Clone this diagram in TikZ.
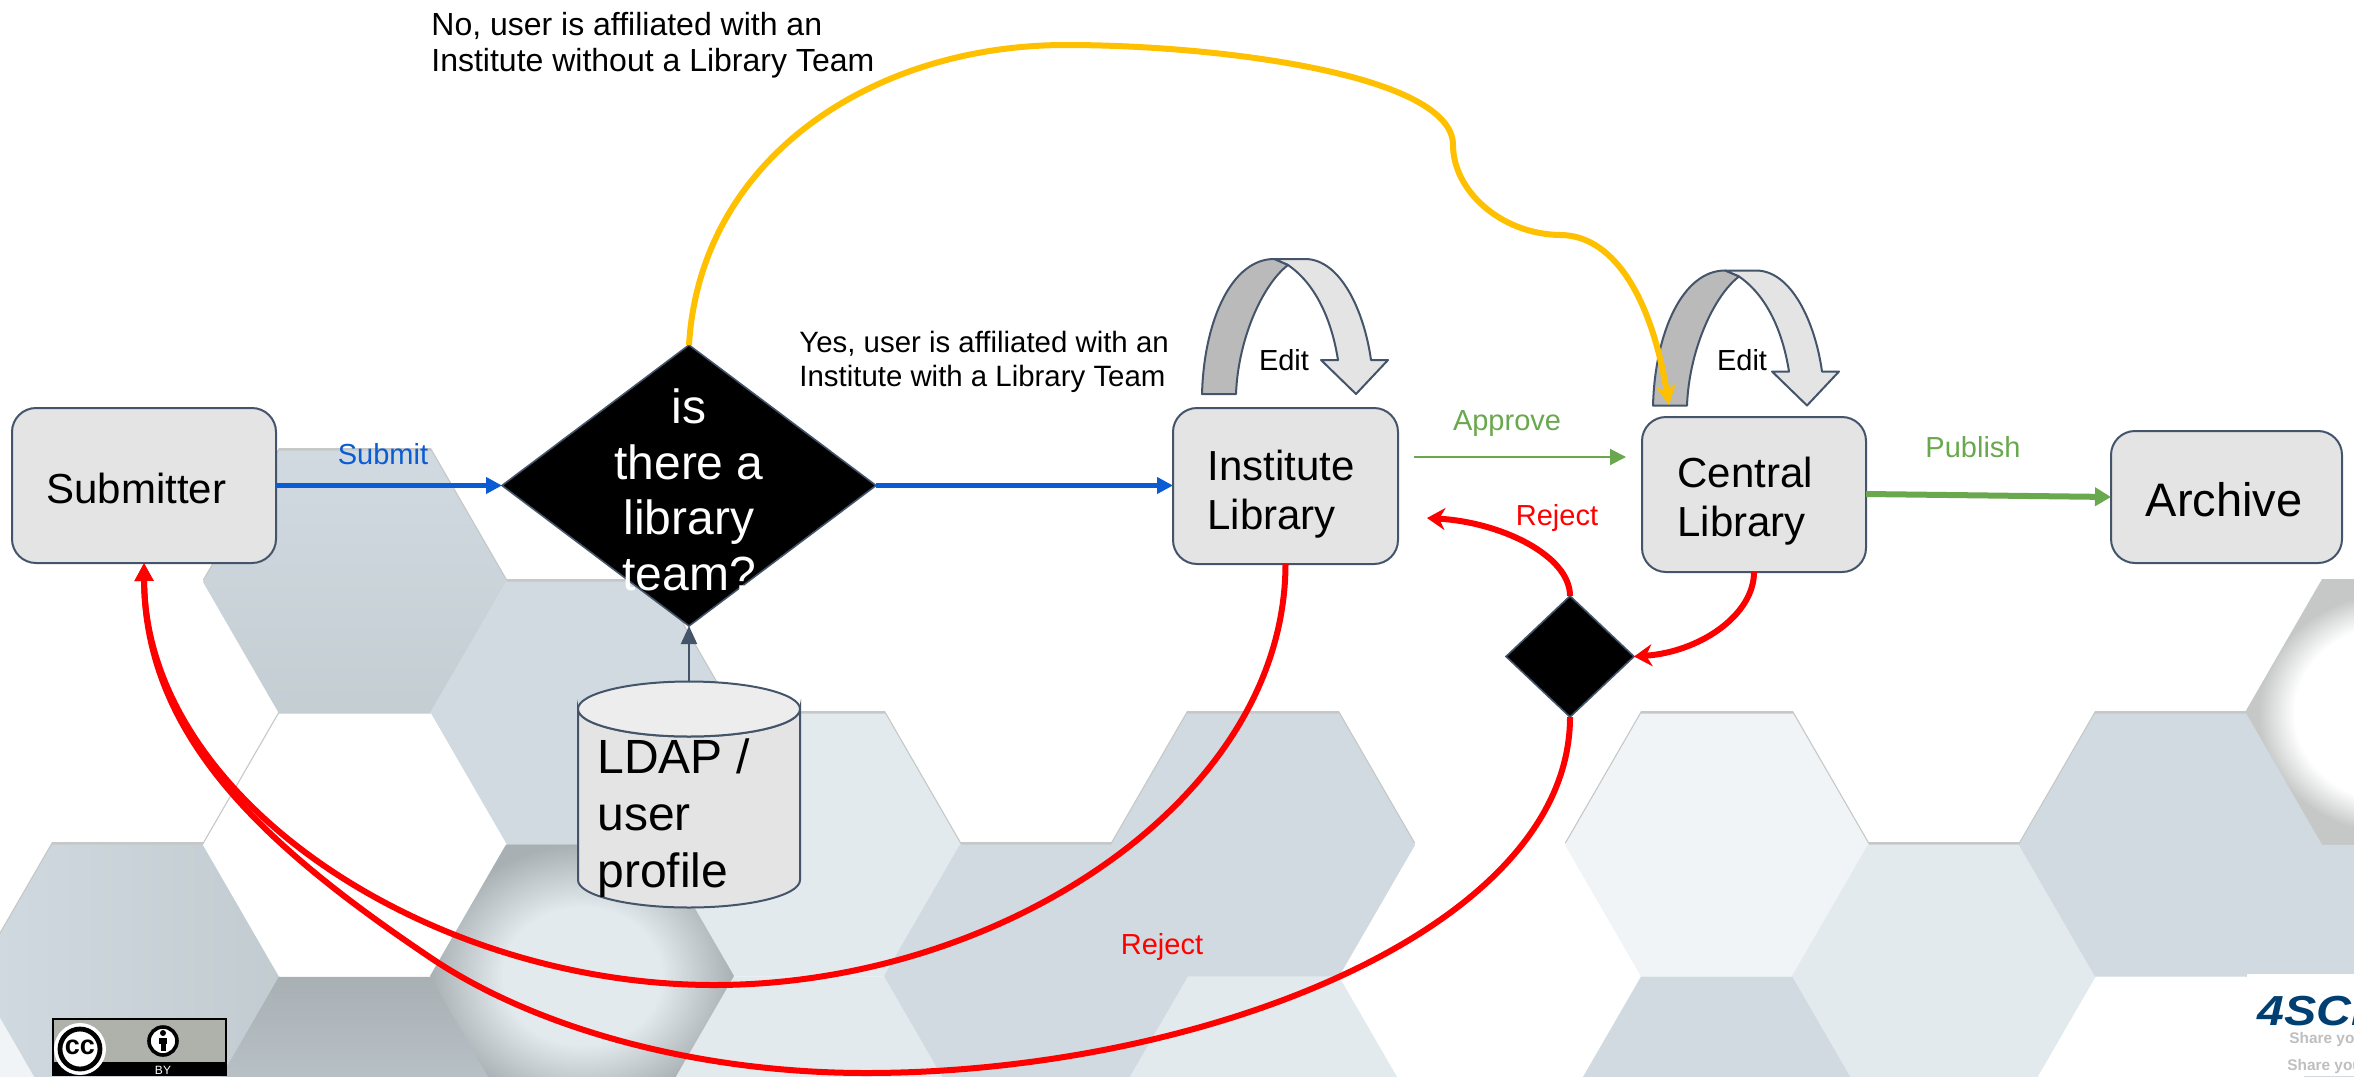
\documentclass[tikz,border=0pt]{standalone}
\usepackage{fontspec}
\setmainfont{Liberation Sans}
\usetikzlibrary{arrows.meta,shapes.geometric,calc}
\definecolor{hgray}{HTML}{D0DAE0}
\definecolor{hlight}{HTML}{E3EAEE}
\definecolor{hpale}{HTML}{F0F4F6}
\definecolor{hdark}{HTML}{A8B0B4}
\definecolor{hshadow}{HTML}{C6C8C8}
\definecolor{edgeblue}{HTML}{44546A}
\definecolor{boxfill}{HTML}{E4E4E4}
\definecolor{subblue}{HTML}{0B5BD3}
\definecolor{okgreen}{HTML}{6AA84F}
\definecolor{navy}{HTML}{003F72}
\definecolor{ccgray}{HTML}{AEB2AB}
\definecolor{amber}{HTML}{FFC000}
\pgfdeclareradialshading{softlight}{\pgfpointorigin}{color(0bp)=(hlight); color(13bp)=(hlight); color(25bp)=(hdark); color(50bp)=(hdark)}
\pgfdeclareradialshading{softwhite}{\pgfpointorigin}{color(0bp)=(white); color(17bp)=(white); color(23bp)=(hshadow); color(50bp)=(hshadow)}
\newcommand\hexpath[2]{({#1-152},{#2}) -- ({#1-76},{#2-131.5}) -- ({#1+76},{#2-131.5}) -- ({#1+152},{#2}) -- ({#1+76},{#2+131.5}) -- ({#1-76},{#2+131.5}) -- cycle}
\newcommand\hexsh[2]{\fill[hshadow] \hexpath{#1}{#2-2.5};}
\newcommand\hexfill[3]{\fill[#3] \hexpath{#1}{#2};}
\newcommand\hexshade[3]{\shade[#3] \hexpath{#1}{#2};}
\tikzset{
  stepbox/.style={draw=edgeblue,fill=boxfill,line width=1pt,rounded corners=12pt,inner sep=0pt,outer sep=0pt},
  boxtext/.style={font=\fontsize{21}{24.5}\selectfont,align=left,inner sep=0pt,anchor=west},
  small/.style={font=\fontsize{14.5}{17}\selectfont,inner sep=0pt},
  smallml/.style={small,align=left,anchor=west},
  decide/.style={diamond,draw=edgeblue,fill=black,line width=.8pt,inner sep=0pt,outer sep=0pt,aspect=1},
  redline/.style={draw=red,line width=3pt,-{Stealth[length=9pt,width=11pt]}},
  bluearrow/.style={draw=subblue,line width=2.3pt,-{Triangle[length=8pt,width=8pt]}},
  editarrow/.pic={
    \draw[edgeblue,line width=1pt,fill=boxfill,line join=round]
      (1274,259) -- (1305,259) .. controls (1340,259) and (1364,310) .. (1371,360) -- (1388,360) -- (1356,394) -- (1321,360) -- (1338,360) .. controls (1330,310) and (1310,280) .. (1288,265) -- cycle;
    \draw[edgeblue,line width=1pt,fill=black!27,line join=round]
      (1202,394) .. controls (1204,320) and (1232,259) .. (1274,259) -- (1288,265) .. controls (1262,285) and (1238,340) .. (1236,394) -- cycle;
  }
}
\begin{document}
\begin{tikzpicture}[x=.5pt,y=-.5pt]
\useasboundingbox (0,0) rectangle (2354,1076);
\begin{scope}
\clip (0,0) rectangle (2354,1076);
% background hexagons
\hexsh{355}{582}\hexsh{582}{713}\hexsh{809}{845}\hexsh{1263}{845}\hexsh{1717}{845}\hexsh{2171}{845}
\hexsh{128}{976}\hexsh{582}{976}\hexsh{1036}{976}\hexsh{1944}{976}\hexsh{2398}{976}\hexsh{355}{845}\hexsh{2398}{713}
\hexfill{-99}{1108}{hpale}
\hexshade{128}{976}{left color=hgray,middle color=hgray,right color=hgray!65!hdark}
\hexshade{355}{582}{top color=hgray,middle color=hgray,bottom color=hgray!70!hdark}
\hexfill{582}{713}{hgray}
\hexfill{809}{845}{hlight}
\hexfill{809}{1108}{hlight}
\hexfill{1263}{1108}{hlight}
\hexfill{1036}{976}{hgray}
\hexfill{1263}{845}{hgray}
\hexfill{1717}{845}{hpale}
\hexfill{1717}{1108}{hgray}
\hexfill{1944}{976}{hlight}
\hexfill{2171}{845}{hgray}
\hexfill{2398}{976}{hgray}
\hexshade{2398}{713}{shading=softwhite}
\hexshade{355}{1108}{top color=hdark,middle color=hgray,bottom color=hgray}
\hexfill{355}{845}{white}
\hexshade{582}{976}{shading=softlight}
% logo patch
\fill[white] (2247,974) rectangle (2354,1076);
\node (logo) [anchor=base west,inner sep=0pt,text=navy,font=\fontsize{21}{24}\selectfont\bfseries\itshape] at (2257,1025) {\scalebox{1.15}[1]{4SCi}};
\node (share1) [anchor=base west,inner sep=0pt,text=black!25,font=\fontsize{7.7}{9}\selectfont\bfseries] at (2289,1043) {Share yo};
\node (share2) [anchor=base west,inner sep=0pt,text=black!25,font=\fontsize{7.7}{9}\selectfont\bfseries] at (2287,1070) {Share you};
% CC badge
\fill[black] (52,1018) rectangle (227,1076);
\fill[ccgray] (54,1020) rectangle (225,1062);
\fill[white] (80,1049) circle (26);
\draw[black,line width=2.4pt,fill=white] (80,1049) circle (20);
\node (cctext) [inner sep=0pt,font=\fontsize{13.5}{14}\selectfont\bfseries] at (80,1047.5) {cc};
\draw[black,line width=1.8pt,fill=white] (163,1041) circle (14);
\fill[black] (163,1033) circle (3);
\fill[black] (159,1037.5) rectangle (167,1044);
\fill[black] (160.5,1044) rectangle (165.5,1051);
\node (bytext) [inner sep=0pt,text=white,font=\fontsize{6}{7}\selectfont] at (163,1070) {BY};
\end{scope}
% process nodes
\node (sub) [stepbox,minimum width=132pt,minimum height=77.5pt] at (144,485.5) {};
\node (subt) [boxtext] at (46,488) {Submitter};
\node (inst) [stepbox,minimum width=112.5pt,minimum height=78pt] at (1285.5,486) {};
\node (instt) [boxtext] at (1207,494) {Institute\\Library};
\node (cent) [stepbox,minimum width=112pt,minimum height=77.5pt] at (1754,494.5) {};
\node (centt) [boxtext] at (1677,501) {Central\\Library};
\node (arch) [stepbox,minimum width=115.5pt,minimum height=66pt] at (2226.5,497) {};
\node (archt) [boxtext,anchor=center,font=\fontsize{23.5}{28}\selectfont] at (2224,500) {Archive};
\node (dec) [decide,minimum width=187pt,minimum height=140.5pt] at (689,485.5) {};
\node (dect) [inner sep=0pt,text=white,align=center,font=\fontsize{24}{27.75}\selectfont] at (689,490) {is\\there a\\library\\team?};
\node (dec2) [decide,minimum width=64pt,minimum height=60.5pt] at (1570,656.5) {};
% cylinder
\coordinate (ldaptop) at (689,681.5);
\draw[edgeblue,line width=1pt,fill=boxfill] (578,709) -- (578,880) arc[start angle=180,end angle=360,x radius=111,y radius=-27.5] -- (800,709) arc[start angle=0,end angle=180,x radius=111,y radius=27.5] -- cycle;
\draw[edgeblue,line width=1pt,fill=black!7] (689,709) ellipse[x radius=111,y radius=27.5];
\node (ldapt) [inner sep=0pt,align=left,anchor=west,font=\fontsize{24}{28.5}\selectfont] at (597,818) {LDAP /\\user\\profile};
% edit arrows
\pic {editarrow};
\pic at (451,11.5) {editarrow};
% connectors
\draw[bluearrow] (sub.east|-dec.west) -- (dec.west);
\draw[bluearrow] (dec.east) -- (dec.east-|inst.west);
\draw[draw=edgeblue,line width=1pt,-{Triangle[length=9pt,width=8pt]}] (ldaptop) -- (dec.south);
\coordinate (appa) at (1414,457);
\coordinate (appb) at (1626,457);
\draw[draw=okgreen,line width=1pt,-{Triangle[length=8pt,width=8pt]}] (appa) -- (appb);
\coordinate (puba) at (1866,494);
\coordinate (pubb) at (2111,497);
\draw[draw=okgreen,line width=3pt,-{Triangle[length=8pt,width=9pt]}] (puba) -- (pubb);
\coordinate (yellowend) at (1669,405);
\draw[draw=amber,line width=3pt,-{Stealth[length=10pt,width=10pt]}]
  (dec.north) .. controls (700,160) and (870,45) .. (1066,45)
  .. controls (1220,45) and (1453,75) .. (1453,145)
  .. controls (1453,190) and (1500,234) .. (1560,235)
  .. controls (1610,235) and (1650,290) .. (yellowend);
\draw[redline,-{Triangle[length=9pt,width=9pt]}] (inst.south) .. controls (1285,800) and (1000,985) .. (714,985)
  .. controls (430,985) and (145,800) .. (sub.south);
\draw[redline,-{Triangle[length=9pt,width=9pt]}] (dec2.south) .. controls (1570,930) and (1200,1073) .. (866,1073)
  .. controls (700,1073) and (540,1030) .. (434,960)
  .. controls (270,850) and (145,740) .. (sub.south);
\draw[redline] (cent.south) .. controls (1754,615) and (1700,652) .. (dec2.east);
\coordinate (rejend) at (1427,518);
\draw[redline] (dec2.north) .. controls (1570,555) and (1500,522) .. (rejend);
% labels
\node (ask) [smallml,font=\fontsize{16}{18}\selectfont] at (431,45) {No, user is affiliated with an\\Institute without a Library Team};
\node (yes) [smallml,font=\fontsize{14.7}{17}\selectfont] at (799,362) {Yes, user is affiliated with an\\Institute with a Library Team};
\node (submit) [small,text=subblue] at (383,454) {Submit};
\node (approve) [small,text=okgreen] at (1507,424) {Approve};
\node (publish) [small,text=okgreen] at (1973,447) {Publish};
\node (rej1) [small,text=red] at (1557,518) {Reject};
\node (rej2) [small,text=red] at (1162,947) {Reject};
\node (edit1) [small] at (1284,360) {Edit};
\node (edit2) [small] at (1742,360) {Edit};
\end{tikzpicture}
\end{document}
